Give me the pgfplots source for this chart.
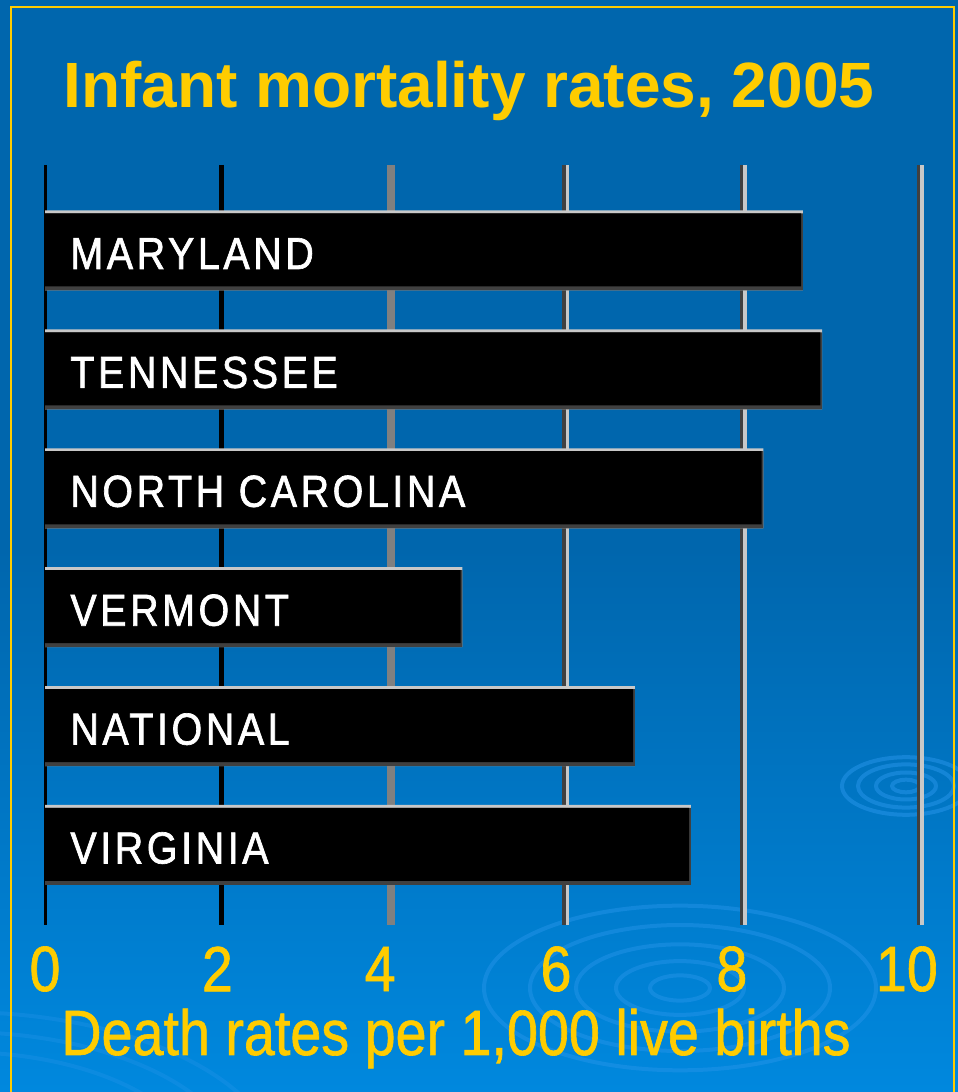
\documentclass[border=0pt]{standalone}
\usepackage{fontspec}
\setmainfont{Liberation Sans}
\newfontfamily\condfont[FakeStretch=0.87,FakeBold=1]{Liberation Sans}
\newfontfamily\barfont[FakeStretch=0.88,LetterSpace=8,FakeBold=1.5]{Liberation Sans}
\usepackage{pgfplots}
\pgfplotsset{compat=1.18}
\definecolor{ycol}{RGB}{255,204,0}
\definecolor{bgtop}{RGB}{0,102,173}
\definecolor{bgbot}{RGB}{0,136,222}
\definecolor{ripple}{RGB}{40,150,235}
\definecolor{gdark}{RGB}{64,64,64}
\definecolor{glight}{RGB}{200,200,200}
\tikzset{barlab/.style={anchor=base west, inner sep=0, xshift=12.5pt, yshift=-9.25pt, text=white, font=\barfont\fontsize{22.4}{26}\selectfont}}
\begin{document}
\begin{tikzpicture}
\useasboundingbox (0,0) rectangle (479pt,546pt);
% background
\fill[bgtop] (0,0) rectangle (479pt,546pt);
\shade[top color=bgtop, bottom color=bgbot] (0,0) rectangle (479pt,272pt);
\begin{scope}
\clip (0,0) rectangle (479pt,546pt);
\foreach \r in {15,32,52,75,98}{
  \draw[ripple, opacity=0.45, line width=2pt] (340pt,52pt) ellipse ({\r pt} and {0.42*\r pt});
}
\foreach \r in {7,15,24,32}{
  \draw[ripple, opacity=0.5, line width=2pt] (453pt,153pt) ellipse ({\r pt} and {0.45*\r pt});
}
\foreach \r in {120,140,160}{
  \draw[ripple, opacity=0.3, line width=2pt] (-20pt,-40pt) ellipse ({\r pt} and {0.5*\r pt});
}
\end{scope}
% border
\draw[ycol, line width=1pt] (5.5pt,-5pt) -- (5.5pt,542.5pt) -- (477pt,542.5pt) -- (477pt,-5pt);
% title
\node[anchor=base west, inner sep=0, text=ycol, font=\bfseries\fontsize{32}{38}\selectfont] at (31.5pt,492pt) {Infant mortality rates, 2005};
% x label
\node[anchor=base west, inner sep=0, text=ycol, font=\condfont\fontsize{32}{38}\selectfont] at (30.5pt,18.5pt) {Death rates per 1,000 live births};
\begin{axis}[
  at={(22.5pt,83.5pt)}, anchor=south west,
  width=437.5pt, height=380pt, scale only axis,
  xmin=0, xmax=10, ymin=-0.719, ymax=5.673, y dir=reverse,
  axis line style={draw=none},
  major tick length=0pt,
  ytick=\empty,
  xtick={0,1.97,3.83,5.84,7.85,9.85},
  xticklabels={0,2,4,6,8,10},
  /pgf/number format/assume math mode=true,
  xticklabel style={font=\condfont\fontsize{32}{38}\selectfont, text=ycol, anchor=center, yshift=-22pt},
  clip=false,
]
\draw[black, line width=1.5pt] (axis cs:0,-0.719) -- (axis cs:0,5.673);
\draw[black, line width=2.5pt] (axis cs:2.02,-0.719) -- (axis cs:2.02,5.673);
\draw[gray, line width=4pt] (axis cs:3.95,-0.719) -- (axis cs:3.95,5.673);
\pgfplotsinvokeforeach{5.95,7.98,10}{
  \draw[gdark, line width=1.75pt] ([xshift=-0.875pt]axis cs:#1,-0.719) -- ([xshift=-0.875pt]axis cs:#1,5.673);
  \draw[glight, line width=1.75pt] ([xshift=0.875pt]axis cs:#1,-0.719) -- ([xshift=0.875pt]axis cs:#1,5.673);
}
% light top edge
\addplot[xbar, bar width=0.673, bar shift=0, fill=glight, draw=none]
  coordinates {(8.66,0) (8.88,1) (8.21,2) (4.77,3) (6.74,4) (7.38,5)};
% dark bottom / right edge
\addplot[xbar, bar width=0.648, bar shift=0.0125, fill=gdark, draw=none]
  coordinates {(8.66,0) (8.88,1) (8.21,2) (4.77,3) (6.74,4) (7.38,5)};
% black bar body
\addplot[xbar, bar width=0.614, bar shift=-0.0045, fill=black, draw=none]
  coordinates {(8.64,0) (8.86,1) (8.19,2) (4.75,3) (6.72,4) (7.36,5)};
\node[barlab] at (axis cs:0,0) {MARYLAND};
\node[barlab] at (axis cs:0,1) {TENNESSEE};
\node[barlab] at (axis cs:0,2) {NORTH CAROLINA};
\node[barlab] at (axis cs:0,3) {VERMONT};
\node[barlab] at (axis cs:0,4) {NATIONAL};
\node[barlab] at (axis cs:0,5) {VIRGINIA};
\end{axis}
\end{tikzpicture}
\end{document}
